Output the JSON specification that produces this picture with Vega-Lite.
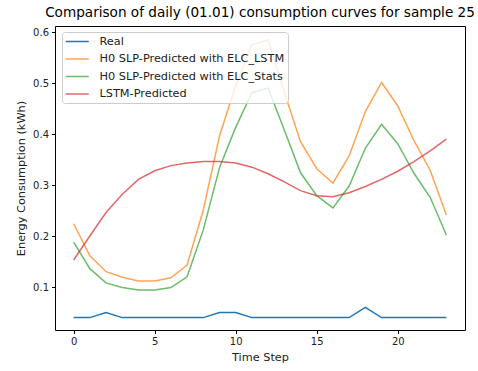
{
  "$schema": "https://vega.github.io/schema/vega-lite/v6.json",
  "autosize": {"type": "none"},
  "width": 410,
  "height": 304,
  "padding": {"left": 55, "top": 26, "right": 13, "bottom": 41},
  "background": "white",
  "config": {
    "font": "DejaVu Sans",
    "view": {"stroke": "black", "strokeWidth": 1},
    "axis": {"grid": false, "domain": false, "tickColor": "black", "tickSize": 3.5, "labelColor": "#222", "labelFontSize": 10, "titleFontSize": 11.3, "titleFontWeight": "normal", "titleColor": "#222", "labelPadding": 3}
  },
  "title": {"text": "Comparison of daily (01.01) consumption curves for sample 25", "fontSize": 13.6, "fontWeight": "normal", "color": "black", "anchor": "middle", "offset": 6},
  "data": {"values": [
    {"t":0,"s":"Real","v":0.04},{"t":1,"s":"Real","v":0.04},{"t":2,"s":"Real","v":0.05},{"t":3,"s":"Real","v":0.04},{"t":4,"s":"Real","v":0.04},{"t":5,"s":"Real","v":0.04},{"t":6,"s":"Real","v":0.04},{"t":7,"s":"Real","v":0.04},{"t":8,"s":"Real","v":0.04},{"t":9,"s":"Real","v":0.05},{"t":10,"s":"Real","v":0.05},{"t":11,"s":"Real","v":0.04},{"t":12,"s":"Real","v":0.04},{"t":13,"s":"Real","v":0.04},{"t":14,"s":"Real","v":0.04},{"t":15,"s":"Real","v":0.04},{"t":16,"s":"Real","v":0.04},{"t":17,"s":"Real","v":0.04},{"t":18,"s":"Real","v":0.06},{"t":19,"s":"Real","v":0.04},{"t":20,"s":"Real","v":0.04},{"t":21,"s":"Real","v":0.04},{"t":22,"s":"Real","v":0.04},{"t":23,"s":"Real","v":0.04},
    {"t":0,"s":"H0 SLP-Predicted with ELC_LSTM","v":0.224},{"t":1,"s":"H0 SLP-Predicted with ELC_LSTM","v":0.161},{"t":2,"s":"H0 SLP-Predicted with ELC_LSTM","v":0.130},{"t":3,"s":"H0 SLP-Predicted with ELC_LSTM","v":0.119},{"t":4,"s":"H0 SLP-Predicted with ELC_LSTM","v":0.112},{"t":5,"s":"H0 SLP-Predicted with ELC_LSTM","v":0.112},{"t":6,"s":"H0 SLP-Predicted with ELC_LSTM","v":0.118},{"t":7,"s":"H0 SLP-Predicted with ELC_LSTM","v":0.143},{"t":8,"s":"H0 SLP-Predicted with ELC_LSTM","v":0.251},{"t":9,"s":"H0 SLP-Predicted with ELC_LSTM","v":0.396},{"t":10,"s":"H0 SLP-Predicted with ELC_LSTM","v":0.495},{"t":11,"s":"H0 SLP-Predicted with ELC_LSTM","v":0.575},{"t":12,"s":"H0 SLP-Predicted with ELC_LSTM","v":0.585},{"t":13,"s":"H0 SLP-Predicted with ELC_LSTM","v":0.482},{"t":14,"s":"H0 SLP-Predicted with ELC_LSTM","v":0.385},{"t":15,"s":"H0 SLP-Predicted with ELC_LSTM","v":0.332},{"t":16,"s":"H0 SLP-Predicted with ELC_LSTM","v":0.304},{"t":17,"s":"H0 SLP-Predicted with ELC_LSTM","v":0.357},{"t":18,"s":"H0 SLP-Predicted with ELC_LSTM","v":0.444},{"t":19,"s":"H0 SLP-Predicted with ELC_LSTM","v":0.501},{"t":20,"s":"H0 SLP-Predicted with ELC_LSTM","v":0.455},{"t":21,"s":"H0 SLP-Predicted with ELC_LSTM","v":0.387},{"t":22,"s":"H0 SLP-Predicted with ELC_LSTM","v":0.329},{"t":23,"s":"H0 SLP-Predicted with ELC_LSTM","v":0.241},
    {"t":0,"s":"H0 SLP-Predicted with ELC_Stats","v":0.188},{"t":1,"s":"H0 SLP-Predicted with ELC_Stats","v":0.136},{"t":2,"s":"H0 SLP-Predicted with ELC_Stats","v":0.108},{"t":3,"s":"H0 SLP-Predicted with ELC_Stats","v":0.099},{"t":4,"s":"H0 SLP-Predicted with ELC_Stats","v":0.094},{"t":5,"s":"H0 SLP-Predicted with ELC_Stats","v":0.094},{"t":6,"s":"H0 SLP-Predicted with ELC_Stats","v":0.099},{"t":7,"s":"H0 SLP-Predicted with ELC_Stats","v":0.120},{"t":8,"s":"H0 SLP-Predicted with ELC_Stats","v":0.212},{"t":9,"s":"H0 SLP-Predicted with ELC_Stats","v":0.334},{"t":10,"s":"H0 SLP-Predicted with ELC_Stats","v":0.413},{"t":11,"s":"H0 SLP-Predicted with ELC_Stats","v":0.481},{"t":12,"s":"H0 SLP-Predicted with ELC_Stats","v":0.490},{"t":13,"s":"H0 SLP-Predicted with ELC_Stats","v":0.408},{"t":14,"s":"H0 SLP-Predicted with ELC_Stats","v":0.324},{"t":15,"s":"H0 SLP-Predicted with ELC_Stats","v":0.279},{"t":16,"s":"H0 SLP-Predicted with ELC_Stats","v":0.255},{"t":17,"s":"H0 SLP-Predicted with ELC_Stats","v":0.298},{"t":18,"s":"H0 SLP-Predicted with ELC_Stats","v":0.372},{"t":19,"s":"H0 SLP-Predicted with ELC_Stats","v":0.419},{"t":20,"s":"H0 SLP-Predicted with ELC_Stats","v":0.381},{"t":21,"s":"H0 SLP-Predicted with ELC_Stats","v":0.323},{"t":22,"s":"H0 SLP-Predicted with ELC_Stats","v":0.276},{"t":23,"s":"H0 SLP-Predicted with ELC_Stats","v":0.202},
    {"t":0,"s":"LSTM-Predicted","v":0.153},{"t":1,"s":"LSTM-Predicted","v":0.200},{"t":2,"s":"LSTM-Predicted","v":0.246},{"t":3,"s":"LSTM-Predicted","v":0.282},{"t":4,"s":"LSTM-Predicted","v":0.311},{"t":5,"s":"LSTM-Predicted","v":0.328},{"t":6,"s":"LSTM-Predicted","v":0.338},{"t":7,"s":"LSTM-Predicted","v":0.343},{"t":8,"s":"LSTM-Predicted","v":0.346},{"t":9,"s":"LSTM-Predicted","v":0.346},{"t":10,"s":"LSTM-Predicted","v":0.343},{"t":11,"s":"LSTM-Predicted","v":0.335},{"t":12,"s":"LSTM-Predicted","v":0.322},{"t":13,"s":"LSTM-Predicted","v":0.306},{"t":14,"s":"LSTM-Predicted","v":0.289},{"t":15,"s":"LSTM-Predicted","v":0.279},{"t":16,"s":"LSTM-Predicted","v":0.277},{"t":17,"s":"LSTM-Predicted","v":0.285},{"t":18,"s":"LSTM-Predicted","v":0.297},{"t":19,"s":"LSTM-Predicted","v":0.311},{"t":20,"s":"LSTM-Predicted","v":0.327},{"t":21,"s":"LSTM-Predicted","v":0.346},{"t":22,"s":"LSTM-Predicted","v":0.367},{"t":23,"s":"LSTM-Predicted","v":0.390}
  ]},
  "mark": {"type": "line", "strokeWidth": 1.5, "clip": true},
  "encoding": {
    "x": {"field": "t", "type": "quantitative", "title": "Time Step",
          "scale": {"domain": [-1.15, 24.15], "nice": false, "zero": false},
          "axis": {"values": [0, 5, 10, 15, 20], "titlePadding": 4.5}},
    "y": {"field": "v", "type": "quantitative", "title": "Energy Consumption (kWh)",
          "scale": {"domain": [0.0157, 0.6118], "nice": false, "zero": false},
          "axis": {"values": [0.1, 0.2, 0.3, 0.4, 0.5, 0.6], "format": ".1f", "titlePadding": 6}},
    "color": {"field": "s", "type": "nominal",
      "scale": {"domain": ["Real", "H0 SLP-Predicted with ELC_LSTM", "H0 SLP-Predicted with ELC_Stats", "LSTM-Predicted"],
                "range": ["#1f77b4", "rgba(255,127,14,0.7)", "rgba(44,160,44,0.7)", "rgba(214,39,40,0.7)"]},
      "legend": {"title": null, "orient": "none", "legendX": 7, "legendY": 6, "symbolType": "M-2,0H2", "symbolSize": 132, "symbolStrokeWidth": 1.5,
                 "symbolOffset": 5.75,
                 "labelFontSize": 11.3, "labelColor": "#222", "labelOffset": 15.75, "labelLimit": 400, "rowPadding": 5.5, "padding": 3,
                 "fillColor": "rgba(255,255,255,0.8)", "strokeColor": "#cccccc", "cornerRadius": 3}},
    "order": {"field": "t", "type": "quantitative"}
  }
}
